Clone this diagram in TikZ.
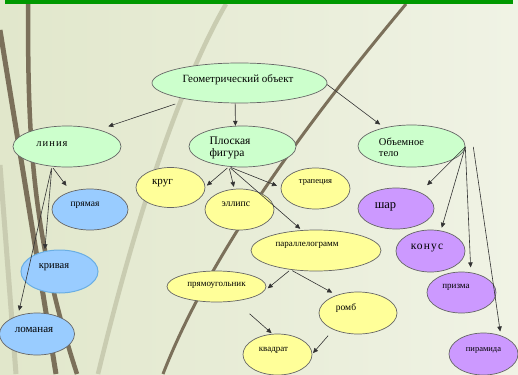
\documentclass[tikz,border=0pt]{standalone}
\usepackage{fontspec}
\setmainfont{Liberation Serif}
\usetikzlibrary{shapes.geometric,arrows.meta}

\definecolor{mint}{HTML}{CCFFCC}
\definecolor{lemon}{HTML}{FFFF99}
\definecolor{sky}{HTML}{99CCFF}
\definecolor{lilac}{HTML}{CC99FF}
\definecolor{stemcol}{HTML}{7B705A}
\definecolor{reedcol}{HTML}{C9CCB1}
\definecolor{bgleft}{HTML}{E1E7CB}
\definecolor{bgright}{HTML}{F0F3E5}
\definecolor{topbar}{HTML}{009900}

\begin{document}
\begin{tikzpicture}[x=1pt,y=-1pt,
    oval/.style={ellipse,draw=black!60,line width=0.7pt,inner sep=0pt,minimum width=69pt,minimum height=41pt},
    txt/.style={inner sep=0pt,font=\fontsize{#1}{#1}\selectfont},
    spaced/.style={font=\fontsize{#1}{#1}\selectfont\addfontfeatures{LetterSpace=10}},
    tip/.style={draw=black!80,line width=0.6pt,-{Triangle[length=5pt,width=4.5pt]}}]
    \pgfmathsetmacro{\slidewidth}{518}
    \pgfmathsetmacro{\slideheight}{374}
    % background of the slide
    \shade[left color=bgleft,right color=bgright] (0,0) rectangle (\slidewidth,\slideheight);
    \useasboundingbox (0,0) rectangle (\slidewidth,\slideheight);
    \fill[topbar] (5,0) rectangle (513,4.5);
    \begin{scope}
    \clip (0,4.5) rectangle (\slidewidth,\slideheight);
    \draw[reedcol,line width=5pt] (0,165) -- (16,374);
    \draw[reedcol,line width=4.5pt] (226,4) .. controls (185,75) and (140,200) .. (98,374);
    \draw[stemcol,line width=5pt] (0,30) -- (56,374);
    \draw[stemcol,line width=4.5pt] (28,4) .. controls (28,130) and (30,230) .. (77,374);
    \draw[stemcol,line width=3pt] (406,4) .. controls (330,95) and (215,240) .. (163,374);
    \end{scope}

    % ovals
    \node[oval,fill=mint,minimum width=175pt,minimum height=40pt,label={[txt=11,xshift=-1.5pt,yshift=3pt]center:Геометрический объект}] (geo) at (239.5,83) {};
    \node[oval,fill=mint,minimum width=108pt,label={[txt=10,spaced=10.5,xshift=-15pt,yshift=2.5pt]center:линия}] (linia) at (67,146.5) {};
    \node[oval,fill=mint,minimum width=107pt,label={[txt=11.5,align=left,xshift=-12.5pt,yshift=-1.5pt]center:Плоская\\фигура}] (plosk) at (242.5,146.5) {};
    \node[oval,fill=mint,minimum width=107pt,minimum height=42pt,label={[txt=10.5,align=left,xshift=-10pt,yshift=-1.5pt]center:Объемное\\тело}] (obyem) at (411.5,146) {};

    \node[oval,fill=sky,minimum width=76pt,label={[txt=9.5,xshift=-5pt,yshift=4.5pt]center:прямая}] (pryam) at (90,209.5) {};
    \node[oval,fill=sky,draw=cyan!70!blue!60,line width=1pt,minimum width=77pt,minimum height=43pt,label={[txt=10.5,xshift=-5.5pt,yshift=4.5pt]center:кривая}] (kriv) at (59.5,271.5) {};
    \node[oval,fill=sky,minimum width=75pt,minimum height=42pt,label={[txt=11,xshift=-3pt,yshift=4pt]center:ломаная}] (loman) at (37,334) {};

    \node[oval,fill=lemon,minimum height=40pt,label={[txt=11,xshift=-8pt,yshift=4pt]center:круг}] (krug) at (170.5,187.5) {};
    \node[oval,fill=lemon,label={[txt=9.8,xshift=-3.5pt,yshift=5.5pt]center:эллипс}] (ellips) at (239.5,209.5) {};
    \node[oval,fill=lemon,label={[txt=8.5,yshift=6.5pt]center:трапеция}] (trap) at (315.5,188.5) {};
    \node[oval,fill=lemon,minimum width=130pt,label={[txt=9,xshift=-9pt,yshift=5.5pt]center:параллелограмм}] (paral) at (316,250.5) {};
    \node[oval,fill=lemon,minimum width=99pt,minimum height=31pt,label={[txt=9,yshift=1.5pt]center:прямоугольник}] (pryamoug) at (216.5,286.5) {};
    \node[oval,fill=lemon,minimum width=78pt,minimum height=42pt,label={[txt=9.5,xshift=-12pt,yshift=5pt]center:ромб}] (romb) at (358,313) {};
    \node[oval,fill=lemon,label={[txt=9,xshift=-4pt,yshift=4.5pt]center:квадрат}] (kvadr) at (277.5,354.5) {};

    \node[oval,fill=lilac,minimum width=76pt,label={[txt=12.5,xshift=-10.5pt,yshift=1.5pt]center:шар}] (shar) at (396,208.5) {};
    \node[oval,fill=lilac,minimum height=42pt,label={[txt=11,spaced=11.5,xshift=-3.5pt,yshift=3pt]center:конус}] (konus) at (430.5,251) {};
    \node[oval,fill=lilac,label={[txt=9,xshift=-5.5pt,yshift=5.5pt]center:призма}] (prizma) at (461.5,292.5) {};
    \node[oval,fill=lilac,minimum height=42pt,label={[txt=8.5,yshift=4pt]center:пирамида}] (piram) at (483.5,354) {};

    % arrows
    \draw[tip,shorten <=14pt,shorten >=10pt] (geo.198) -- (linia.28);
    \draw[tip] (geo.258) -- (plosk.109);
    \draw[tip,shorten >=5pt] (geo.-1) -- (obyem.146);
    \draw[tip,shorten <=2pt,shorten >=7pt] (linia.233) -- (pryam.137);
    \draw[tip,shorten <=2pt,shorten >=2pt] (linia.233) -- (kriv.126);
    \draw[tip,shorten <=2pt,shorten >=5pt] (linia.233) -- (loman.136);
    \draw[tip,shorten <=2pt,shorten >=2pt] (plosk.236) -- (krug.1);
    \draw[tip,shorten <=2pt,shorten >=2pt] (plosk.236) -- (ellips.104);
    \draw[tip,shorten <=2pt,shorten >=4pt] (plosk.236) -- (trap.178);
    \draw[tip,shorten <=2pt,shorten >=2pt] (plosk.236) -- (paral.125);
    \draw[tip,shorten <=2pt,shorten >=5pt] (paral.217) -- (pryamoug.-6);
    \draw[tip,shorten <=2pt,shorten >=5pt] (paral.217) -- (romb.140);
    \draw[tip,shorten <=19pt,shorten >=1pt] (pryamoug.-38) -- (kvadr.104);
    \draw[tip,shorten <=8pt,shorten >=1pt] (romb.214) -- (kvadr.1);
    \draw[tip,shorten >=10pt] (obyem.-1) -- (shar.34);
    \draw[tip,shorten >=3pt] (obyem.-1) -- (konus.63);
    \draw[tip,shorten >=5pt] (obyem.-1) -- (prizma.65);
    \draw[tip,shorten >=4pt] ([xshift=8pt]obyem.-1) -- (piram.47);
\end{tikzpicture}
\end{document}
